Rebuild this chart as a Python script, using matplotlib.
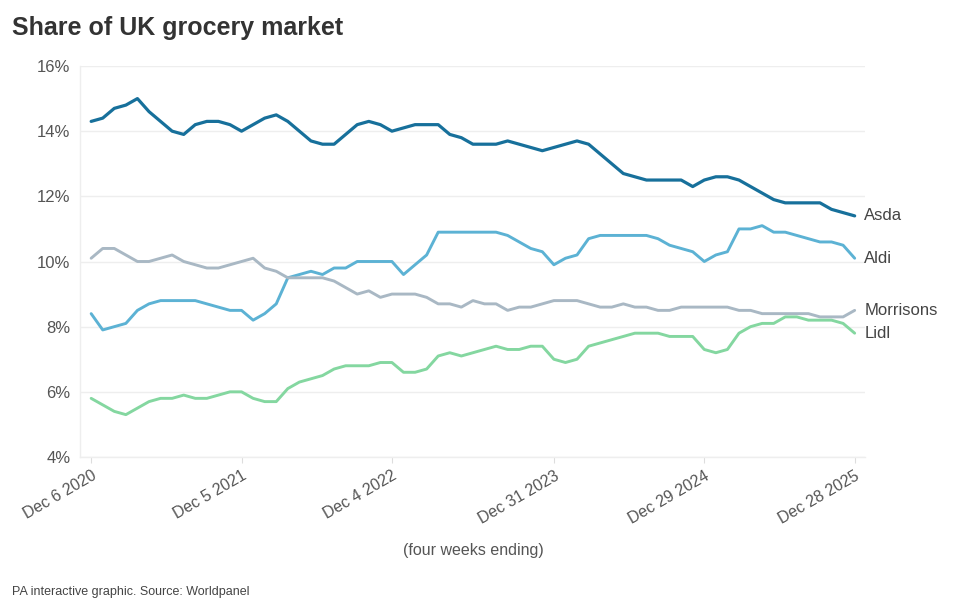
import matplotlib
matplotlib.use("Agg")
import matplotlib.pyplot as plt
import matplotlib.dates as mdates
import numpy as np
import datetime as dt

plt.rcParams['font.family'] = ['Liberation Sans', 'DejaVu Sans']

start_date = dt.date(2020, 12, 6)
n_periods = 67
dates = [start_date + dt.timedelta(days=28 * i) for i in range(n_periods)]

asda = [14.3, 14.4, 14.7, 14.8, 15.0, 14.6, 14.3, 14.0, 13.9, 14.2,
        14.3, 14.3, 14.2, 14.0, 14.2, 14.4, 14.5, 14.3, 14.0, 13.7,
        13.6, 13.6, 13.9, 14.2, 14.3, 14.2, 14.0, 14.1, 14.2, 14.2,
        14.2, 13.9, 13.8, 13.6, 13.6, 13.6, 13.7, 13.6, 13.5, 13.4,
        13.5, 13.6, 13.7, 13.6, 13.3, 13.0, 12.7, 12.6, 12.5, 12.5,
        12.5, 12.5, 12.3, 12.5, 12.6, 12.6, 12.5, 12.3, 12.1, 11.9,
        11.8, 11.8, 11.8, 11.8, 11.6, 11.5, 11.4]
aldi = [8.4, 7.9, 8.0, 8.1, 8.5, 8.7, 8.8, 8.8, 8.8, 8.8,
        8.7, 8.6, 8.5, 8.5, 8.2, 8.4, 8.7, 9.5, 9.6, 9.7,
        9.6, 9.8, 9.8, 10.0, 10.0, 10.0, 10.0, 9.6, 9.9, 10.2,
        10.9, 10.9, 10.9, 10.9, 10.9, 10.9, 10.8, 10.6, 10.4, 10.3,
        9.9, 10.1, 10.2, 10.7, 10.8, 10.8, 10.8, 10.8, 10.8, 10.7,
        10.5, 10.4, 10.3, 10.0, 10.2, 10.3, 11.0, 11.0, 11.1, 10.9,
        10.9, 10.8, 10.7, 10.6, 10.6, 10.5, 10.1]
morrisons = [10.1, 10.4, 10.4, 10.2, 10.0, 10.0, 10.1, 10.2, 10.0, 9.9,
             9.8, 9.8, 9.9, 10.0, 10.1, 9.8, 9.7, 9.5, 9.5, 9.5,
             9.5, 9.4, 9.2, 9.0, 9.1, 8.9, 9.0, 9.0, 9.0, 8.9,
             8.7, 8.7, 8.6, 8.8, 8.7, 8.7, 8.5, 8.6, 8.6, 8.7,
             8.8, 8.8, 8.8, 8.7, 8.6, 8.6, 8.7, 8.6, 8.6, 8.5,
             8.5, 8.6, 8.6, 8.6, 8.6, 8.6, 8.5, 8.5, 8.4, 8.4,
             8.4, 8.4, 8.4, 8.3, 8.3, 8.3, 8.5]
lidl = [5.8, 5.6, 5.4, 5.3, 5.5, 5.7, 5.8, 5.8, 5.9, 5.8,
        5.8, 5.9, 6.0, 6.0, 5.8, 5.7, 5.7, 6.1, 6.3, 6.4,
        6.5, 6.7, 6.8, 6.8, 6.8, 6.9, 6.9, 6.6, 6.6, 6.7,
        7.1, 7.2, 7.1, 7.2, 7.3, 7.4, 7.3, 7.3, 7.4, 7.4,
        7.0, 6.9, 7.0, 7.4, 7.5, 7.6, 7.7, 7.8, 7.8, 7.8,
        7.7, 7.7, 7.7, 7.3, 7.2, 7.3, 7.8, 8.0, 8.1, 8.1,
        8.3, 8.3, 8.2, 8.2, 8.2, 8.1, 7.8]

series_names = ["Asda", "Aldi", "Morrisons", "Lidl"]
series_values = [asda, aldi, morrisons, lidl]
series_colors = ["#17709b", "#5cb2d4", "#a9b8c4", "#84d7a0"]
series_widths = [2.3, 2.1, 2.1, 2.1]

tick_dates = [dt.date(2020, 12, 6), dt.date(2021, 12, 5), dt.date(2022, 12, 4),
              dt.date(2023, 12, 31), dt.date(2024, 12, 29), dt.date(2025, 12, 28)]
tick_labels = ["Dec 6 2020", "Dec 5 2021", "Dec 4 2022",
               "Dec 31 2023", "Dec 29 2024", "Dec 28 2025"]
y_ticks = [4, 6, 8, 10, 12, 14, 16]

fig = plt.figure(figsize=(9.6, 6.11), dpi=100)
ax = fig.add_axes([80 / 960, 1 - 457 / 611, (865 - 80) / 960, (457 - 66) / 611])

for name, vals, col, lw in zip(series_names, series_values, series_colors, series_widths):
    ax.plot(dates, vals, color=col, lw=lw, solid_joinstyle='round', solid_capstyle='round', zorder=3)
    ax.annotate(name, xy=(dates[-1], vals[-1]), xytext=(7, 0), textcoords='offset points',
                va='center', ha='left', fontsize=12, color='#444444')

ax.set_ylim(4, 16)
ax.set_yticks(y_ticks)
ax.set_yticklabels([f"{v}%" for v in y_ticks])
ax.set_xlim(dates[0] - dt.timedelta(days=27), dates[-1] + dt.timedelta(days=25))
ax.set_xticks(tick_dates)
ax.set_xticklabels(tick_labels, rotation=30, ha='right', rotation_mode='anchor')

ax.grid(axis='y', color='#eeeeee', lw=1, zorder=0)
for s in ['top', 'right']:
    ax.spines[s].set_visible(False)
for s in ['left', 'bottom']:
    ax.spines[s].set_color('#eeeeee')
    ax.spines[s].set_linewidth(1)
ax.tick_params(axis='y', length=0, pad=7, labelsize=12, labelcolor='#555555')
ax.tick_params(axis='x', length=4, color='#dddddd', pad=4, labelsize=11.5, labelcolor='#555555')

fig.text(473 / 960, 1 - 551 / 611, "(four weeks ending)", ha='center', va='center',
         fontsize=11.5, color='#555555')
fig.text(12 / 960, 1 - 28 / 611, "Share of UK grocery market", ha='left', va='center',
         fontsize=18, fontweight='bold', color='#333333')
fig.text(12 / 960, 1 - 592 / 611, "PA interactive graphic. Source: Worldpanel", ha='left',
         va='center', fontsize=9, color='#444444')

fig.savefig("out.png", dpi=100)
